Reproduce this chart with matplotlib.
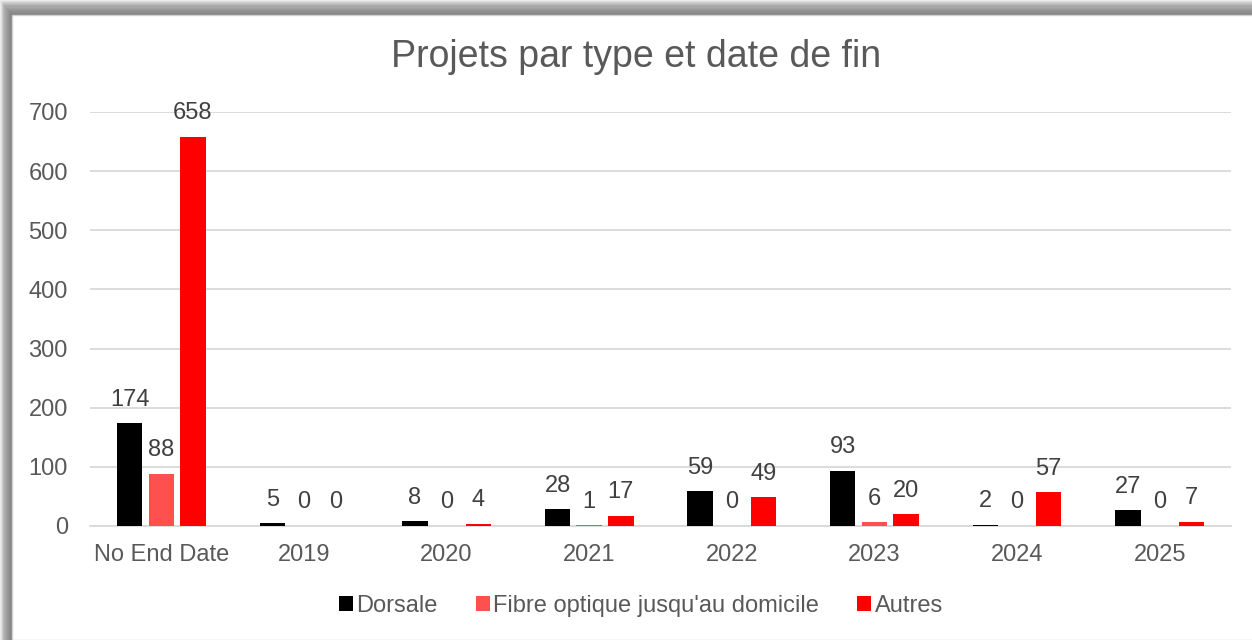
import numpy as np
import matplotlib.pyplot as plt
from matplotlib.patches import Rectangle

plt.rcParams['font.family'] = ['Liberation Sans', 'DejaVu Sans']

categories = ['No End Date', '2019', '2020', '2021', '2022', '2023', '2024', '2025']
dorsale = [174, 5, 8, 28, 59, 93, 2, 27]
fibre = [88, 0, 0, 1, 0, 6, 0, 0]
autres = [658, 0, 4, 17, 49, 20, 57, 7]
series_names = ['Dorsale', "Fibre optique jusqu'au domicile", 'Autres']
series_colors = ['#000000', '#FF5050', '#FF0000']
y_ticks = [0, 100, 200, 300, 400, 500, 600, 700]

fig = plt.figure(figsize=(12.52, 6.4), dpi=100)
fig.patch.set_facecolor('white')

# drop shadow along the top and left edges of the chart panel
W, H = 1252, 640
for i in range(14):
    fig.patches.append(Rectangle((i * 12 / 14 / W, 0), 1, 1 - i * 15 / 14 / H,
                                 transform=fig.transFigure, facecolor='#6f6f6f',
                                 alpha=0.12, edgecolor='none', zorder=0))
fig.patches.append(Rectangle((12 / W, 0), 1, 1 - 15 / H, transform=fig.transFigure,
                             facecolor='white', edgecolor='#d0d0d0', lw=1, zorder=1))

ax = fig.add_axes([90 / W, 1 - 526 / H, (1231 - 90) / W, (526 - 112) / H])
ax.set_facecolor('none')
ax.set_zorder(2)

x = np.arange(len(categories))
width = 0.178
offsets = [-0.222, 0, 0.222]
for vals, name, col, off in zip([dorsale, fibre, autres], series_names, series_colors, offsets):
    bars = ax.bar(x + off, vals, width, color=col, label=name, zorder=3)
    for b, v in zip(bars, vals):
        ax.annotate(str(v), (b.get_x() + b.get_width() / 2, v), xytext=(0, 9),
                    textcoords='offset points', ha='center', va='bottom',
                    fontsize=17, color='#404040')

ax.set_xlim(-0.5, len(categories) - 0.5)
ax.set_ylim(0, 700)
ax.set_yticks(y_ticks)
ax.set_xticks(x)
ax.set_xticklabels(categories)
ax.tick_params(axis='both', length=0, labelsize=17, labelcolor='#595959')
ax.tick_params(axis='x', pad=13)
ax.tick_params(axis='y', pad=16)
ax.grid(axis='y', color='#d9d9d9', linewidth=1.3, zorder=0)
ax.set_axisbelow(True)
for s in ['top', 'right', 'left']:
    ax.spines[s].set_visible(False)
ax.spines['bottom'].set_color('#d9d9d9')
ax.spines['bottom'].set_linewidth(1.3)

fig.text(636 / W, 1 - 57 / H, 'Projets par type et date de fin', ha='center', va='center',
         fontsize=27, color='#595959')

fig.legend(loc='center', bbox_to_anchor=(641 / W, 1 - 606 / H), ncol=3, frameon=False,
           fontsize=17, labelcolor='#595959', handlelength=0.6, handleheight=0.6,
           handletextpad=0.15, columnspacing=1.6)

fig.savefig('out.png', dpi=100)
